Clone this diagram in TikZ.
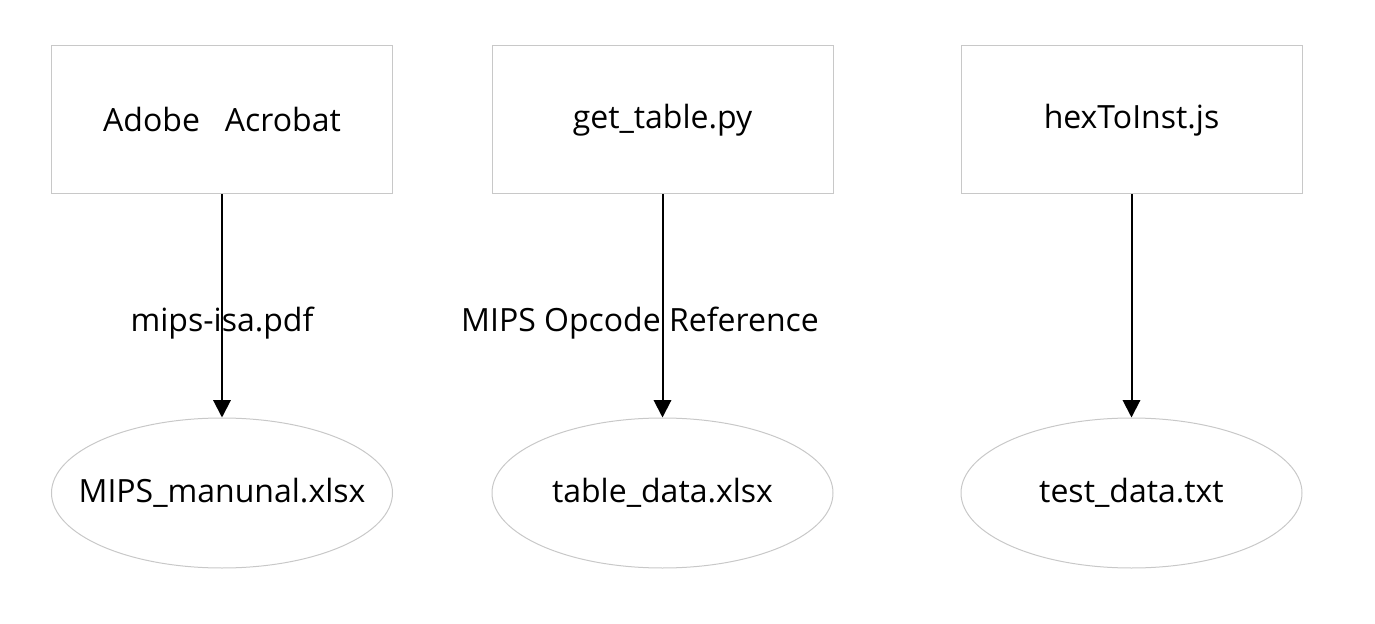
\documentclass[tikz,border=0pt]{standalone}
\usepackage{fontspec}
\setmainfont{Open Sans}
\usepackage{tikz}
\usetikzlibrary{arrows.meta,shapes.geometric}
\definecolor{edgegray}{HTML}{C8C8C8}
\newcommand{\bigtext}{\fontsize{24}{28}\selectfont}

\begin{document}
\begin{tikzpicture}[x=0.75pt,y=-0.75pt,
        toolbox/.style={draw=edgegray,line width=0.75pt,minimum width=255.75pt,minimum height=111pt,font=\bigtext},
        filenode/.style={ellipse,draw=edgegray,line width=0.75pt,minimum width=255.75pt,minimum height=112.5pt,inner xsep=-20pt,inner ysep=0pt,font=\bigtext},
        flow/.style={line width=1.5pt,-{Triangle[length=13pt,width=13pt]}},
        lbl/.style={font=\bigtext,inner sep=0pt}]
        \useasboundingbox (0,0) rectangle (1375,624);

        % tools
        \node[toolbox] (acro) at (222,120)    {Adobe~~~Acrobat};
        \node[toolbox] (gettab) at (662.5,120) {get\_table.py};
        \node[toolbox] (hex) at (1131.5,120)  {hexToInst.js};

        % outputs
        \node[filenode] (manual) at (222,493)    {MIPS\_manunal.xlsx};
        \node[filenode] (tabdat) at (662.5,493)  {table\_data.xlsx};
        \node[filenode] (testdat) at (1131.5,493) {test\_data.txt};

        \draw[flow] (acro) -- (manual);
        \draw[flow] (gettab) -- (tabdat);
        \draw[flow] (hex) -- (testdat);

        % edge labels
        \node[lbl] (lpdf) at (222,323)  {mips-isa.pdf};
        \node[lbl] (lref) at (640,323)  {MIPS Opcode Reference};
\end{tikzpicture}
\end{document}
